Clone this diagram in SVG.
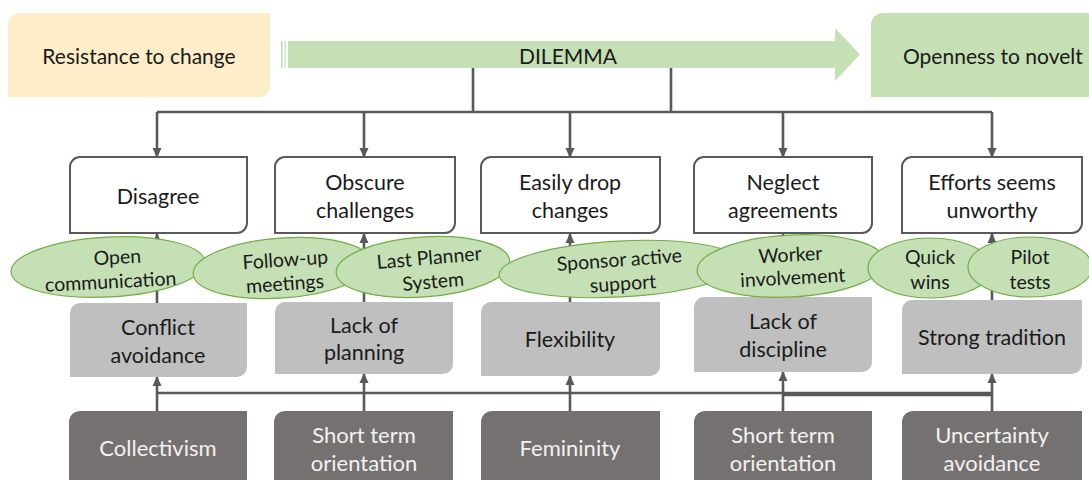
<svg xmlns="http://www.w3.org/2000/svg" width="1089" height="480" viewBox="0 0 1089 480">
  <defs>
    <style>
      text { font-family: Lato, "Noto Sans", "Liberation Sans", sans-serif; text-anchor: middle; dominant-baseline: central; }
      .t-head { font-size: 21px; fill: #1a1a1a; }
      .t-box { font-size: 21.5px; fill: #1a1a1a; }
      .t-ell { font-size: 19.5px; fill: #1a1a1a; }
      .t-dark { font-size: 22px; fill: #f2f2f2; }
      .effect { fill: #ffffff; stroke: #595959; stroke-width: 2; }
      .cause { fill: #bfbfbf; }
      .root { fill: #767171; }
      .measure { fill: #c5e0b4; stroke: #70ad47; stroke-width: 1.2; }
      .link { fill: none; stroke: #595959; stroke-width: 2.6; }
      .arrow { fill: none; stroke: #595959; stroke-width: 2.6; marker-end: url(#head); }
    </style>
    <marker id="head" markerUnits="userSpaceOnUse" markerWidth="10" markerHeight="10" viewBox="0 0 10 10" refX="9" refY="5" orient="auto">
      <path d="M0,0.5 L10,5 L0,9.5 Z" fill="#595959"/>
    </marker>
  </defs>

  <!-- header: the two poles and the dilemma arrow between them -->
  <g id="resistance">
    <path d="M20,13 H270 V87 A10,10 0 0 1 260,97 H8 V25 A12,12 0 0 1 20,13 Z" fill="#fdeec9"/>
    <text class="t-head" x="139" y="55">Resistance to change</text>
  </g>
  <g id="dilemma">
    <rect x="281" y="41" width="1.6" height="27" fill="#c5e0b4"/>
    <rect x="284.6" y="41" width="1.2" height="27" fill="#c5e0b4"/>
    <path d="M288,41 H835 V28 L860,54.5 L835,81 V68 H288 Z" fill="#c5e0b4"/>
    <text class="t-head" x="568" y="55">DILEMMA</text>
  </g>
  <g id="openness">
    <path d="M883,13 H1095 V97 H871 V25 A12,12 0 0 1 883,13 Z" fill="#c5e0b4"/>
    <text class="t-head" x="903" y="55" style="text-anchor:start">Openness to novelt</text>
  </g>

  <!-- connectors -->
  <g id="connectors">
    <path class="link" d="M473,68 V112 M671,68 V112 M157,112 H992"/>
    <path class="arrow" d="M157,112 V157"/>
    <path class="arrow" d="M364,112 V157"/>
    <path class="arrow" d="M570,112 V157"/>
    <path class="arrow" d="M783,112 V157"/>
    <path class="arrow" d="M992,112 V157"/>

    <path class="arrow" d="M157,303 V234"/>
    <path class="arrow" d="M364,302 V234"/>
    <path class="arrow" d="M570,302 V234"/>
    <path class="arrow" d="M783,297 V234"/>
    <path class="arrow" d="M992,300 V234"/>

    <path class="link" d="M157,393 H992 M783,395 H992"/>
    <path class="arrow" d="M157,411 V377"/>
    <path class="arrow" d="M364,411 V374"/>
    <path class="arrow" d="M570,411 V376"/>
    <path class="arrow" d="M783,411 V372"/>
    <path class="arrow" d="M992,411 V374"/>
  </g>

  <!-- effects -->
  <g id="disagree">
    <path class="effect" d="M80,157 H247 V223 A10,10 0 0 1 237,233 H70 V167 A10,10 0 0 1 80,157 Z"/>
    <text class="t-box" x="158" y="196">Disagree</text>
  </g>
  <g id="obscure-challenges">
    <path class="effect" d="M285,157 H455 V223 A10,10 0 0 1 445,233 H275 V167 A10,10 0 0 1 285,157 Z"/>
    <text class="t-box" x="365" y="182">Obscure</text>
    <text class="t-box" x="365" y="210">challenges</text>
  </g>
  <g id="easily-drop-changes">
    <path class="effect" d="M491,157 H660 V223 A10,10 0 0 1 650,233 H481 V167 A10,10 0 0 1 491,157 Z"/>
    <text class="t-box" x="570" y="182">Easily drop</text>
    <text class="t-box" x="570" y="210">changes</text>
  </g>
  <g id="neglect-agreements">
    <path class="effect" d="M704,157 H872 V223 A10,10 0 0 1 862,233 H694 V167 A10,10 0 0 1 704,157 Z"/>
    <text class="t-box" x="783" y="182">Neglect</text>
    <text class="t-box" x="783" y="210">agreements</text>
  </g>
  <g id="efforts-unworthy">
    <path class="effect" d="M912,157 H1082 V223 A10,10 0 0 1 1072,233 H902 V167 A10,10 0 0 1 912,157 Z"/>
    <text class="t-box" x="992" y="182">Efforts seems</text>
    <text class="t-box" x="992" y="210">unworthy</text>
  </g>

  <!-- cultural causes -->
  <g id="conflict-avoidance">
    <path class="cause" d="M80,303 H247 V367 A10,10 0 0 1 237,377 H70 V313 A10,10 0 0 1 80,303 Z"/>
    <text class="t-box" x="158" y="327">Conflict</text>
    <text class="t-box" x="158" y="355">avoidance</text>
  </g>
  <g id="lack-of-planning">
    <path class="cause" d="M285,302 H453 V364 A10,10 0 0 1 443,374 H275 V312 A10,10 0 0 1 285,302 Z"/>
    <text class="t-box" x="364" y="325">Lack of</text>
    <text class="t-box" x="364" y="352">planning</text>
  </g>
  <g id="flexibility">
    <path class="cause" d="M491,302 H660 V366 A10,10 0 0 1 650,376 H481 V312 A10,10 0 0 1 491,302 Z"/>
    <text class="t-box" x="570" y="339">Flexibility</text>
  </g>
  <g id="lack-of-discipline">
    <path class="cause" d="M704,297 H872 V362 A10,10 0 0 1 862,372 H694 V307 A10,10 0 0 1 704,297 Z"/>
    <text class="t-box" x="783" y="321">Lack of</text>
    <text class="t-box" x="783" y="349">discipline</text>
  </g>
  <g id="strong-tradition">
    <path class="cause" d="M912,300 H1082 V364 A10,10 0 0 1 1072,374 H902 V310 A10,10 0 0 1 912,300 Z"/>
    <text class="t-box" x="992" y="337">Strong tradition</text>
  </g>

  <!-- countermeasures -->
  <g id="open-communication">
    <ellipse class="measure" cx="108" cy="267" rx="97" ry="30" transform="rotate(-3 108 267)"/>
    <g transform="rotate(-3 108 270)">
      <text class="t-ell" x="118" y="257">Open</text>
      <text class="t-ell" x="110" y="281">communication</text>
    </g>
  </g>
  <g id="follow-up-meetings">
    <ellipse class="measure" cx="282" cy="268" rx="89" ry="30" transform="rotate(-4 282 268)"/>
    <g transform="rotate(-4 284 270)">
      <text class="t-ell" x="286" y="259">Follow-up</text>
      <text class="t-ell" x="284" y="283">meetings</text>
    </g>
  </g>
  <g id="last-planner-system">
    <ellipse class="measure" cx="423" cy="267" rx="87" ry="30" transform="rotate(-4 423 267)"/>
    <g transform="rotate(-5 430 268)">
      <text class="t-ell" x="430" y="257">Last Planner</text>
      <text class="t-ell" x="432" y="281">System</text>
    </g>
  </g>
  <g id="sponsor-active-support">
    <ellipse class="measure" cx="620" cy="269" rx="121" ry="28" transform="rotate(-3 620 269)"/>
    <g transform="rotate(-4 620 270)">
      <text class="t-ell" x="620" y="259">Sponsor  active</text>
      <text class="t-ell" x="622" y="283">support</text>
    </g>
  </g>
  <g id="worker-involvement">
    <ellipse class="measure" cx="791" cy="266" rx="94" ry="31" transform="rotate(-3 791 266)"/>
    <g transform="rotate(-3 791 266)">
      <text class="t-ell" x="791" y="254">Worker</text>
      <text class="t-ell" x="792" y="277">involvement</text>
    </g>
  </g>
  <g id="quick-wins">
    <ellipse class="measure" cx="930" cy="268" rx="62" ry="30"/>
    <text class="t-ell" x="930" y="256">Quick</text>
    <text class="t-ell" x="930" y="281">wins</text>
  </g>
  <g id="pilot-tests">
    <ellipse class="measure" cx="1030" cy="267" rx="62" ry="30"/>
    <text class="t-ell" x="1030" y="256">Pilot</text>
    <text class="t-ell" x="1030" y="281">tests</text>
  </g>

  <!-- national culture dimensions -->
  <g id="collectivism">
    <path class="root" d="M80,411 H247 V486 H69 V421 A11,11 0 0 1 80,411 Z"/>
    <text class="t-dark" x="158" y="447">Collectivism</text>
  </g>
  <g id="short-term-1">
    <path class="root" d="M285,411 H453 V486 H274 V421 A11,11 0 0 1 285,411 Z"/>
    <text class="t-dark" x="364" y="434">Short term</text>
    <text class="t-dark" x="364" y="462">orientation</text>
  </g>
  <g id="femininity">
    <path class="root" d="M492,411 H660 V486 H481 V421 A11,11 0 0 1 492,411 Z"/>
    <text class="t-dark" x="570" y="447">Femininity</text>
  </g>
  <g id="short-term-2">
    <path class="root" d="M705,411 H872 V486 H694 V421 A11,11 0 0 1 705,411 Z"/>
    <text class="t-dark" x="783" y="434">Short term</text>
    <text class="t-dark" x="783" y="462">orientation</text>
  </g>
  <g id="uncertainty-avoidance">
    <path class="root" d="M913,411 H1082 V486 H902 V421 A11,11 0 0 1 913,411 Z"/>
    <text class="t-dark" x="992" y="434">Uncertainty</text>
    <text class="t-dark" x="992" y="462">avoidance</text>
  </g>
</svg>
